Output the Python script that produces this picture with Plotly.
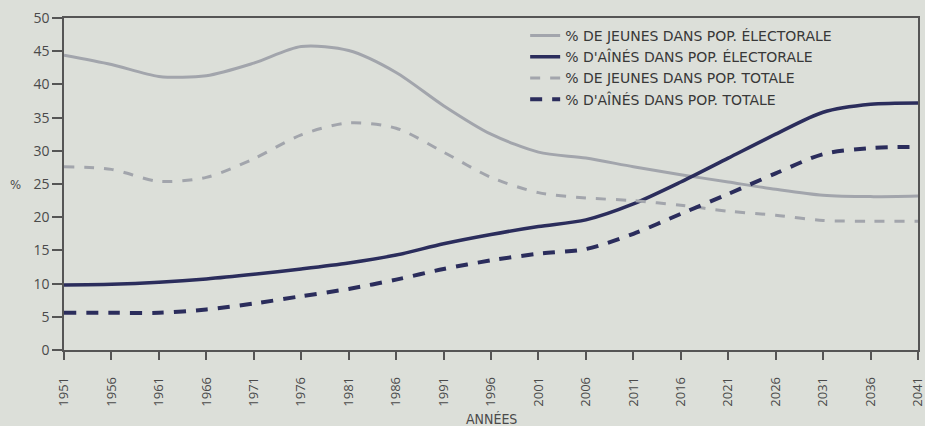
import plotly.graph_objects as go

years = [1951, 1956, 1961, 1966, 1971, 1976, 1981, 1986, 1991, 1996,
         2001, 2006, 2011, 2016, 2021, 2026, 2031, 2036, 2041]

jeunes_electorale = [44.4, 43.0, 41.2, 41.3, 43.2, 45.7, 45.1, 41.8, 36.8, 32.5,
                     29.8, 28.9, 27.6, 26.4, 25.3, 24.2, 23.3, 23.1, 23.2]
aines_electorale = [9.8, 9.9, 10.2, 10.7, 11.4, 12.2, 13.1, 14.3, 16.0, 17.4,
                    18.6, 19.6, 22.0, 25.3, 28.9, 32.5, 35.8, 37.0, 37.2]
jeunes_totale = [27.6, 27.2, 25.4, 26.0, 28.8, 32.4, 34.2, 33.4, 29.8, 26.0,
                 23.7, 22.9, 22.5, 21.8, 20.9, 20.3, 19.5, 19.4, 19.4]
aines_totale = [5.6, 5.6, 5.6, 6.1, 7.0, 8.1, 9.2, 10.6, 12.2, 13.5,
                14.5, 15.2, 17.5, 20.5, 23.5, 26.6, 29.5, 30.4, 30.6]

series_names = [
    "% DE JEUNES DANS POP. ÉLECTORALE",
    "% D'AÎNÉS DANS POP. ÉLECTORALE",
    "% DE JEUNES DANS POP. TOTALE",
    "% D'AÎNÉS DANS POP. TOTALE",
]
y_ticks = [0, 5, 10, 15, 20, 25, 30, 35, 40, 45, 50]
x_title = "ANNÉES"
y_title = "%"

LIGHT = "#a2a5ac"
DARK = "#2b2d5c"
BG = "#dcdfd9"
AXIS = "#555555"
TEXT = "#4a4a4a"
COND = "DejaVu Sans Condensed, DejaVu Sans, sans-serif"
LEG = "DejaVu Sans, sans-serif"
NUM = "Open Sans, DejaVu Sans, sans-serif"

fig = go.Figure()
styles = [
    (jeunes_electorale, LIGHT, 3, "solid"),
    (aines_electorale, DARK, 3.5, "solid"),
    (jeunes_totale, LIGHT, 3, "10px,10px"),
    (aines_totale, DARK, 4, "12px,10px"),
]
for name, (vals, col, w, dash) in zip(series_names, styles):
    fig.add_trace(go.Scatter(
        x=years, y=vals, mode="lines", name=name,
        line=dict(color=col, width=w, dash=dash, shape="spline", smoothing=0.8),
    ))

fig.update_layout(
    width=925, height=426,
    margin=dict(l=64, r=7, t=18, b=76, autoexpand=False),
    paper_bgcolor=BG, plot_bgcolor=BG,
    font=dict(family=COND, color=TEXT, size=12),
    showlegend=True,
    legend=dict(
        x=0.540, y=0.994, xanchor="left", yanchor="top",
        bgcolor="rgba(0,0,0,0)",
        font=dict(family=LEG, size=14, color="#383838"),
        tracegroupgap=0,
    ),
    xaxis=dict(
        range=[1951, 2041], tickmode="array", tickvals=years,
        ticktext=[str(y) for y in years], automargin=False,
        tickangle=-90, ticks="outside", ticklen=8, tickcolor=AXIS, tickwidth=1.5,
        ticklabelstandoff=12, ticklabeloverflow="allow",
        showline=True, linecolor=AXIS, linewidth=1.5, mirror=True,
        showgrid=False, zeroline=False,
        tickfont=dict(family=NUM, size=13, color=TEXT),
    ),
    yaxis=dict(
        range=[0, 50], tickmode="array", tickvals=y_ticks, automargin=False,
        ticks="outside", ticklen=10, tickcolor=AXIS, tickwidth=1.5,
        showline=True, linecolor=AXIS, linewidth=1.5, mirror=True,
        showgrid=False, zeroline=False,
        tickfont=dict(family=NUM, size=14, color=TEXT),
    ),
    annotations=[
        dict(
            text=y_title, xref="paper", yref="y", x=-0.057, y=25,
            showarrow=False, xanchor="center", yanchor="middle",
            font=dict(family=COND, size=13, color=TEXT),
        ),
        dict(
            text=x_title, xref="paper", yref="paper", x=0.5, y=-0.208,
            showarrow=False, xanchor="center", yanchor="middle",
            font=dict(family=COND, size=14, color=TEXT),
        ),
    ],
)

fig.write_html("out.html", config={"displayModeBar": False},
               post_script="document.body.style.margin='0';")
